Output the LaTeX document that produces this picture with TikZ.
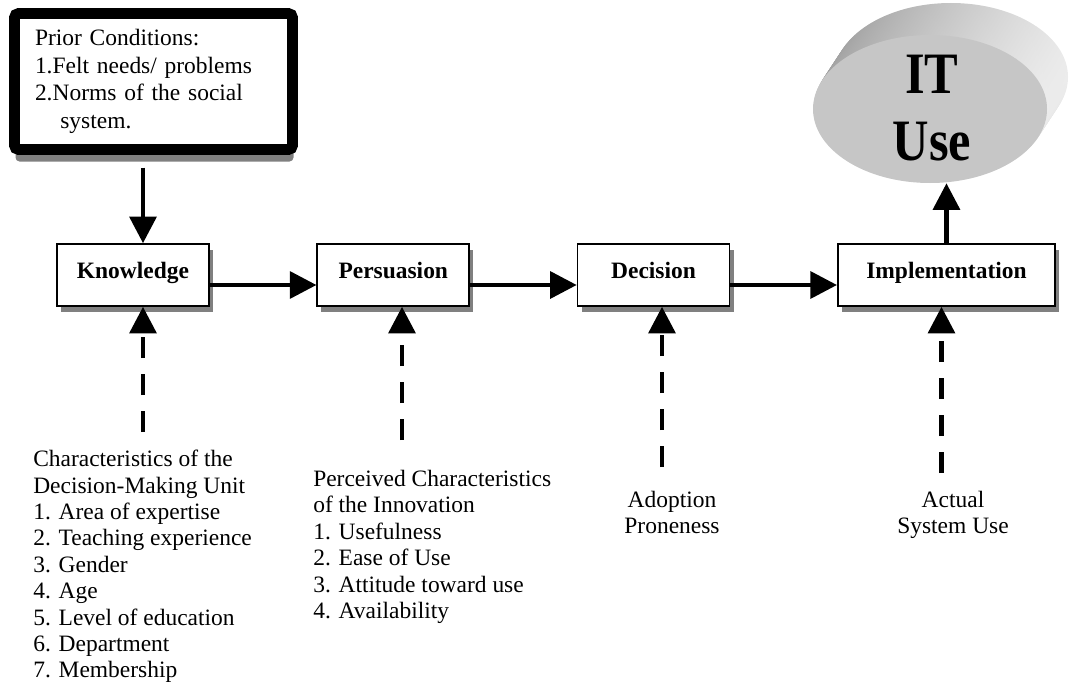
\documentclass[tikz,border=0pt]{standalone}
\usepackage{fontspec}
\setmainfont{Liberation Serif}
\usetikzlibrary{positioning,shapes.geometric,arrows.meta,shadows}

\begin{document}
\begin{tikzpicture}[
    x=0.75pt, y=-0.75pt,
    node distance=80pt,
    stage/.style={rectangle, draw=black, fill=white, line width=1.2pt, minimum width=114pt, minimum height=46.5pt, inner sep=0pt, text height=12pt, text depth=7.5pt, font=\bfseries\fontsize{17.6pt}{19.8pt}\selectfont, drop shadow={shadow xshift=3pt, shadow yshift=-4.5pt, fill=gray, opacity=1}},
    flow/.style={-{Triangle[length=20pt,width=20pt]}, line width=3.4pt, black},
    feed/.style={flow, dash pattern=on 15.75pt off 12pt},
    note/.style={anchor=north west, align=left, inner sep=0pt, font=\fontsize{17.6pt}{19.8pt}\selectfont}
]
    \useasboundingbox (0,0) rectangle (1070,685);

    % prior conditions
    \node[draw=black, fill=white, line width=8pt, rounded corners=3pt, minimum width=208.5pt, minimum height=102pt, text width=177.75pt, align=left, inner sep=0pt, font=\fontsize{17.6pt}{20.6pt}\selectfont, drop shadow={shadow xshift=0.75pt, shadow yshift=-9pt, fill=gray, opacity=1}] (prior) at (153.5,81.5) {Prior Conditions:\\1.Felt needs/ problems\\2.Norms of the social\\\hspace*{19pt}system.};

    % stages
    \node[stage] (knowledge) at (133,275) {Knowledge};
    \node[stage, right=of knowledge] (persuasion) {Persuasion};
    \node[stage, right=of persuasion] (decision) {Decision};
    \node[stage, right=of decision, minimum width=163pt] (implementation) {Implementation};

    % IT use
    \foreach \k in {20,...,1}
        \shade[left color=gray!75, right color=gray!15] ({930+21*\k/20},{109-32*\k/20}) ellipse [x radius=87.75pt, y radius=55.5pt];
    \node[ellipse, fill=gray!45, minimum width=175.5pt, minimum height=111pt, inner sep=0pt] (ituse) at (930,109) {};
    \node[anchor=north, align=center, inner sep=0pt, xscale=0.86, font=\bfseries\fontsize{44pt}{50pt}\selectfont] (itlabel) at (932,55) {IT\\Use};

    % connectors
    \draw[flow, shorten <=9.5pt] ([xshift=7.5pt]knowledge.north |- prior.south) -- ([xshift=7.5pt]knowledge.north);
    \draw[flow] ([yshift=-7.5pt]knowledge.east) -- ([yshift=-7.5pt]persuasion.west);
    \draw[flow] ([yshift=-7.5pt]persuasion.east) -- ([yshift=-7.5pt]decision.west);
    \draw[flow] ([yshift=-7.5pt]decision.east) -- ([yshift=-7.5pt]implementation.west);
    \draw[flow] (implementation.north) -- (implementation.north |- ituse.south);

    % influences
    \coordinate (kfoot) at (143,432);
    \coordinate (pfoot) at (402,440);
    \coordinate (dfoot) at (662,467);
    \coordinate (ifoot) at (941.5,473);
    \draw[feed] (kfoot) -- (kfoot |- knowledge.south);
    \draw[feed] (pfoot) -- (pfoot |- persuasion.south);
    \draw[feed] (dfoot) -- (dfoot |- decision.south);
    \draw[feed] (ifoot) -- (ifoot |- implementation.south);

    \node[note] (unit) at (33,450) {Characteristics of the\\Decision-Making Unit\\1. Area of expertise\\2. Teaching experience\\3. Gender\\4. Age\\5. Level of education\\6. Department\\7. Membership};
    \node[note] (innovation) at (313,470) {Perceived Characteristics\\of the Innovation\\1. Usefulness\\2. Ease of Use\\3. Attitude toward use\\4. Availability};
    \node[note, anchor=north, align=center] (proneness) at (672,491) {Adoption\\Proneness};
    \node[note, anchor=north, align=center] (usage) at (953,491) {Actual\\System Use};
\end{tikzpicture}
\end{document}
